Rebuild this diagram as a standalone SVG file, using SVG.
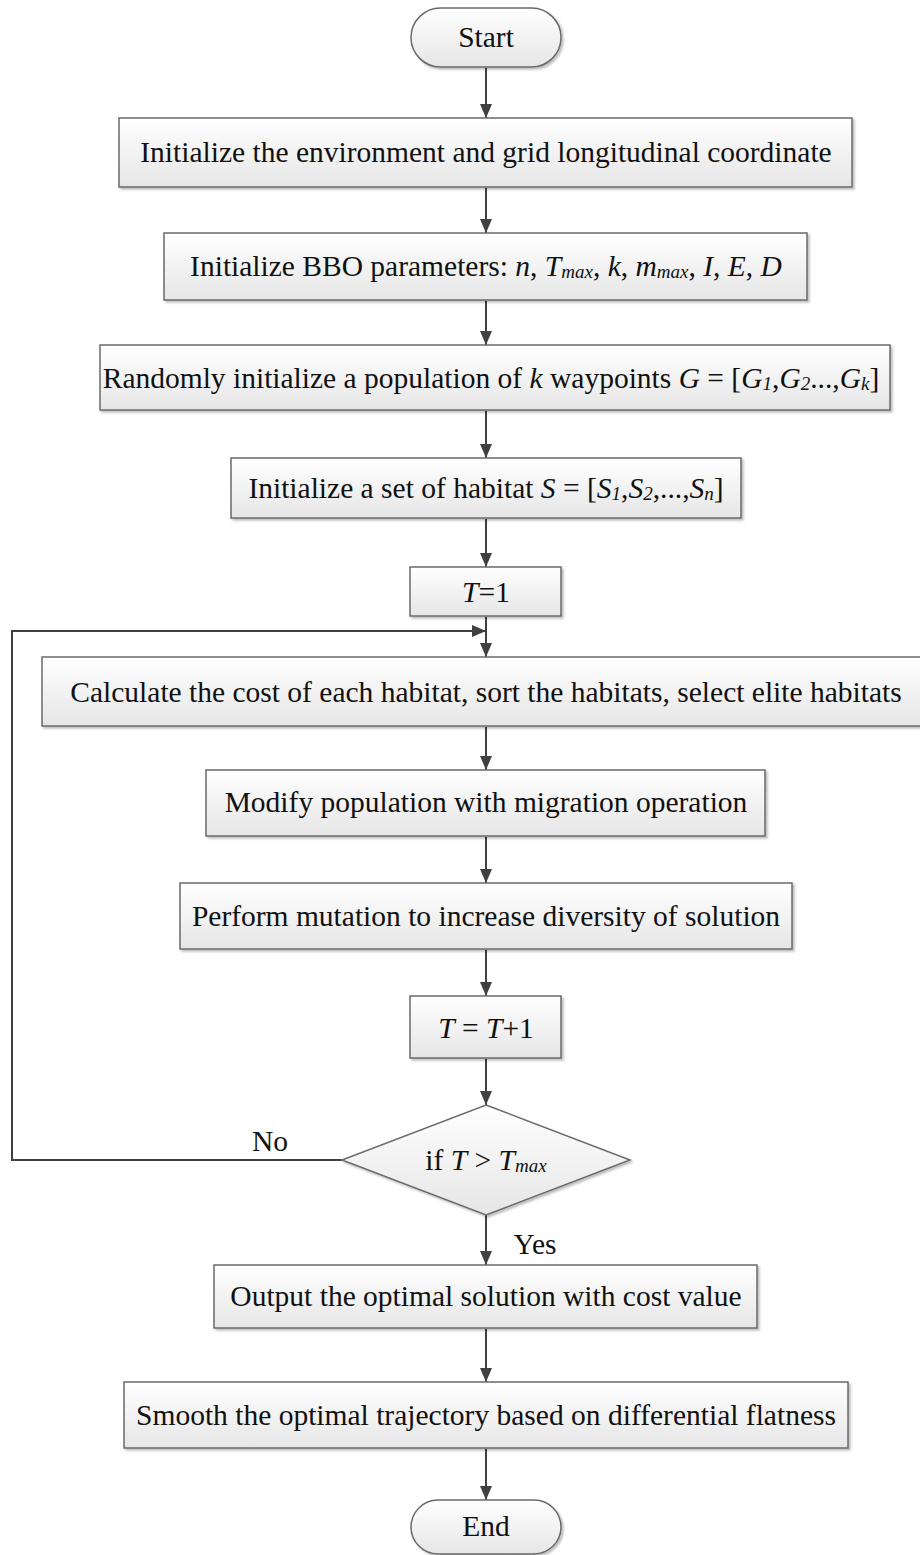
<svg xmlns="http://www.w3.org/2000/svg" width="920" height="1555" viewBox="0 0 920 1555">
<defs>
<linearGradient id="g" x1="0" y1="0" x2="0" y2="1">
<stop offset="0" stop-color="#ffffff"/>
<stop offset="1" stop-color="#e6e6e6"/>
</linearGradient>
<filter id="sh" x="-5%" y="-10%" width="110%" height="130%">
<feDropShadow dx="2" dy="2" stdDeviation="1.2" flood-color="#000" flood-opacity="0.25"/>
</filter>
<marker id="ar2" viewBox="0 0 14 12" refX="14" refY="6" markerWidth="14" markerHeight="12" markerUnits="userSpaceOnUse" orient="auto">
<path d="M0,0 L14,6 L0,12 z" fill="#404040"/>
</marker>
</defs>
<style>
.n{fill:url(#g);stroke:#6a6a6a;stroke-width:1.5;filter:url(#sh)}
.t{font-family:"Liberation Serif","Times New Roman",serif;font-size:29.5px;fill:#111;text-anchor:middle}
.i{font-style:italic}
.s{font-size:19px;font-style:italic}
.c{fill:none;stroke:#404040;stroke-width:2}
</style>
<rect width="920" height="1555" fill="#fff"/>
<g id="connectors">
<line class="c" x1="486" y1="68" x2="486" y2="118" marker-end="url(#ar2)"/>
<line class="c" x1="486" y1="188" x2="486" y2="233" marker-end="url(#ar2)"/>
<line class="c" x1="486" y1="301" x2="486" y2="345" marker-end="url(#ar2)"/>
<line class="c" x1="486" y1="411" x2="486" y2="458" marker-end="url(#ar2)"/>
<line class="c" x1="486" y1="519" x2="486" y2="567" marker-end="url(#ar2)"/>
<line class="c" x1="486" y1="617" x2="486" y2="657" marker-end="url(#ar2)"/>
<polyline class="c" points="342,1160 12,1160 12,631 486,631" marker-end="url(#ar2)"/>
<line class="c" x1="486" y1="727" x2="486" y2="770" marker-end="url(#ar2)"/>
<line class="c" x1="486" y1="837" x2="486" y2="883" marker-end="url(#ar2)"/>
<line class="c" x1="486" y1="950" x2="486" y2="996" marker-end="url(#ar2)"/>
<line class="c" x1="486" y1="1059" x2="486" y2="1105" marker-end="url(#ar2)"/>
<line class="c" x1="486" y1="1215" x2="486" y2="1265" marker-end="url(#ar2)"/>
<line class="c" x1="486" y1="1329" x2="486" y2="1382" marker-end="url(#ar2)"/>
<line class="c" x1="486" y1="1449" x2="486" y2="1500" marker-end="url(#ar2)"/>
<text class="t" x="270" y="1151">No</text>
<text class="t" x="535" y="1254">Yes</text>
</g>
<g id="start">
<rect class="n" x="411" y="8" width="150" height="59" rx="29.5"/>
<text class="t" x="486" y="47">Start</text>
</g>
<g id="init-env">
<rect class="n" x="119" y="118" width="733" height="69"/>
<text class="t" x="486" y="162">Initialize the environment and grid longitudinal coordinate</text>
</g>
<g id="init-bbo">
<rect class="n" x="164" y="233" width="643" height="67"/>
<text class="t" x="486" y="276">Initialize BBO parameters: <tspan class="i">n</tspan>, <tspan class="i">T</tspan><tspan class="s" dy="2">max</tspan><tspan dy="-2">, </tspan><tspan class="i">k</tspan>, <tspan class="i">m</tspan><tspan class="s" dy="2">max</tspan><tspan dy="-2">, </tspan><tspan class="i">I</tspan>, <tspan class="i">E</tspan>, <tspan class="i">D</tspan></text>
</g>
<g id="init-pop">
<rect class="n" x="100" y="345" width="790" height="65"/>
<text class="t" x="491" y="388">Randomly initialize a population of <tspan class="i">k</tspan> waypoints <tspan class="i">G</tspan> = [<tspan class="i">G</tspan><tspan class="s" dy="2">1</tspan><tspan dy="-2">,</tspan><tspan class="i">G</tspan><tspan class="s" dy="2">2</tspan><tspan dy="-2">...,</tspan><tspan class="i">G</tspan><tspan class="s" dy="2">k</tspan><tspan dy="-2">]</tspan></text>
</g>
<g id="init-habitat">
<rect class="n" x="231" y="458" width="510" height="60"/>
<text class="t" x="486" y="498">Initialize a set of habitat <tspan class="i">S</tspan> = [<tspan class="i">S</tspan><tspan class="s" dy="2">1</tspan><tspan dy="-2">,</tspan><tspan class="i">S</tspan><tspan class="s" dy="2">2</tspan><tspan dy="-2">,...,</tspan><tspan class="i">S</tspan><tspan class="s" dy="2">n</tspan><tspan dy="-2">]</tspan></text>
</g>
<g id="t1">
<rect class="n" x="410" y="567" width="151" height="49"/>
<text class="t" x="486" y="602"><tspan class="i">T</tspan>=1</text>
</g>
<g id="calc-cost">
<rect class="n" x="42" y="657" width="885" height="69"/>
<text class="t" x="486" y="702">Calculate the cost of each habitat, sort the habitats, select elite habitats</text>
</g>
<g id="migration">
<rect class="n" x="206" y="770" width="559" height="66"/>
<text class="t" x="486" y="812">Modify population with migration operation</text>
</g>
<g id="mutation">
<rect class="n" x="180" y="883" width="612" height="66"/>
<text class="t" x="486" y="926">Perform mutation to increase diversity of solution</text>
</g>
<g id="t-inc">
<rect class="n" x="410" y="996" width="151" height="62"/>
<text class="t" x="486" y="1038"><tspan class="i">T</tspan> = <tspan class="i">T</tspan>+1</text>
</g>
<g id="decision">
<polygon class="n" points="486,1105 630,1160 486,1215 342,1160"/>
<text class="t" x="486" y="1170">if <tspan class="i">T</tspan> &gt; <tspan class="i">T</tspan><tspan class="s" dy="2">max</tspan></text>
</g>
<g id="output">
<rect class="n" x="214" y="1265" width="543" height="63"/>
<text class="t" x="486" y="1306">Output the optimal solution with cost value</text>
</g>
<g id="smooth">
<rect class="n" x="124" y="1382" width="724" height="66"/>
<text class="t" x="486" y="1425">Smooth the optimal trajectory based on differential flatness</text>
</g>
<g id="end">
<rect class="n" x="411" y="1500" width="150" height="54" rx="27"/>
<text class="t" x="486" y="1536">End</text>
</g>
</svg>
